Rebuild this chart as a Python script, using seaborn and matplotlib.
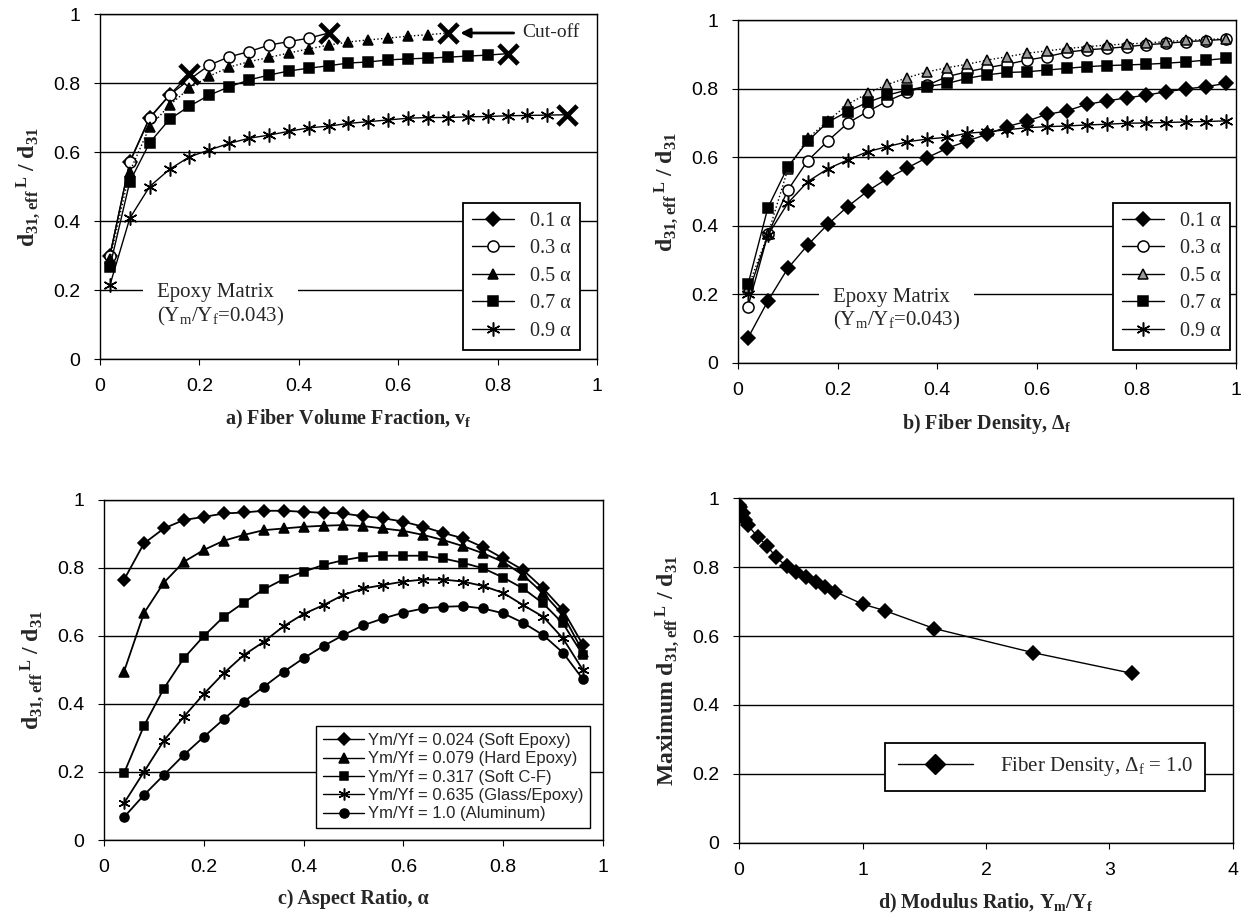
import seaborn as sns
import matplotlib.pyplot as plt
from matplotlib.lines import Line2D

# ---- data ----
# a) fiber volume fraction
vf = [0.02, 0.06, 0.10, 0.14, 0.18, 0.22, 0.26, 0.30, 0.34, 0.38, 0.42, 0.46,
      0.50, 0.54, 0.58, 0.62, 0.66, 0.70, 0.74, 0.78, 0.82, 0.86, 0.90, 0.94]
a_01 = [0.30, 0.57, 0.698, 0.765, 0.825]
a_03 = [0.30, 0.572, 0.70, 0.765, 0.81, 0.852, 0.876, 0.891, 0.91, 0.92, 0.93, 0.945]
a_05 = [0.29, 0.543, 0.673, 0.736, 0.785, 0.82, 0.846, 0.862, 0.874, 0.887, 0.899,
        0.91, 0.919, 0.925, 0.93, 0.936, 0.94, 0.945]
a_07 = [0.268, 0.514, 0.627, 0.695, 0.733, 0.765, 0.789, 0.809, 0.823, 0.835, 0.843,
        0.85, 0.858, 0.861, 0.867, 0.87, 0.872, 0.875, 0.878, 0.881, 0.885]
a_09 = [0.214, 0.408, 0.50, 0.55, 0.586, 0.606, 0.625, 0.64, 0.649, 0.66, 0.67, 0.675,
        0.683, 0.688, 0.693, 0.698, 0.70, 0.70, 0.702, 0.703, 0.705, 0.706, 0.707, 0.708]

# b) fiber density
df_x = [0.02, 0.06, 0.10, 0.14, 0.18, 0.22, 0.26, 0.30, 0.34, 0.38, 0.42, 0.46, 0.50,
        0.54, 0.58, 0.62, 0.66, 0.70, 0.74, 0.78, 0.82, 0.86, 0.90, 0.94, 0.98]
b_01 = [0.073, 0.181, 0.276, 0.344, 0.404, 0.456, 0.501, 0.538, 0.569, 0.599, 0.626, 0.647,
        0.667, 0.689, 0.705, 0.725, 0.735, 0.754, 0.764, 0.773, 0.781, 0.791, 0.799, 0.806, 0.815]
b_03 = [0.164, 0.375, 0.504, 0.59, 0.647, 0.699, 0.733, 0.764, 0.789, 0.81, 0.835, 0.849,
        0.861, 0.871, 0.883, 0.893, 0.906, 0.913, 0.917, 0.922, 0.928, 0.932, 0.937, 0.94, 0.944]
b_05 = [0.22, 0.375, 0.565, 0.655, 0.705, 0.754, 0.786, 0.812, 0.832, 0.849, 0.861, 0.871,
        0.883, 0.893, 0.903, 0.91, 0.917, 0.922, 0.927, 0.93, 0.933, 0.937, 0.941, 0.943, 0.946]
b_07 = [0.229, 0.453, 0.572, 0.647, 0.702, 0.733, 0.76, 0.781, 0.796, 0.806, 0.815, 0.83,
        0.84, 0.847, 0.849, 0.854, 0.859, 0.864, 0.867, 0.869, 0.871, 0.874, 0.878, 0.883, 0.888]
b_09 = [0.20, 0.373, 0.466, 0.529, 0.566, 0.592, 0.616, 0.631, 0.645, 0.653, 0.658, 0.67,
        0.674, 0.68, 0.686, 0.689, 0.691, 0.694, 0.696, 0.699, 0.70, 0.701, 0.703, 0.704, 0.706]

# c) aspect ratio
alpha = [0.04, 0.08, 0.12, 0.16, 0.20, 0.24, 0.28, 0.32, 0.36, 0.40, 0.44, 0.48,
         0.52, 0.56, 0.60, 0.64, 0.68, 0.72, 0.76, 0.80, 0.84, 0.88, 0.92, 0.96]
c_024 = [0.764, 0.871, 0.915, 0.94, 0.949, 0.959, 0.962, 0.967, 0.967, 0.964, 0.961, 0.959,
         0.951, 0.945, 0.935, 0.92, 0.902, 0.886, 0.86, 0.827, 0.793, 0.739, 0.675, 0.573]
c_079 = [0.494, 0.666, 0.756, 0.817, 0.852, 0.879, 0.896, 0.91, 0.915, 0.92, 0.923, 0.925,
         0.922, 0.915, 0.908, 0.896, 0.881, 0.863, 0.842, 0.817, 0.778, 0.725, 0.661, 0.553]
c_317 = [0.196, 0.335, 0.445, 0.534, 0.599, 0.656, 0.697, 0.736, 0.766, 0.788, 0.808, 0.822,
         0.832, 0.835, 0.835, 0.835, 0.827, 0.814, 0.798, 0.771, 0.739, 0.695, 0.636, 0.543]
c_635 = [0.108, 0.20, 0.292, 0.362, 0.429, 0.49, 0.543, 0.582, 0.628, 0.664, 0.69, 0.72,
         0.739, 0.749, 0.759, 0.765, 0.765, 0.759, 0.746, 0.726, 0.69, 0.656, 0.592, 0.499]
c_100 = [0.067, 0.132, 0.191, 0.25, 0.303, 0.355, 0.406, 0.45, 0.494, 0.534, 0.57, 0.602,
         0.631, 0.651, 0.668, 0.68, 0.685, 0.687, 0.68, 0.666, 0.638, 0.602, 0.55, 0.472]

# d) modulus ratio
ym_yf = [0.0, 0.01, 0.03, 0.045, 0.07, 0.15, 0.23, 0.30, 0.385, 0.46, 0.54, 0.62,
         0.70, 0.78, 1.0, 1.18, 1.58, 2.38, 3.18]
d_max = [0.98, 0.976, 0.956, 0.937, 0.922, 0.889, 0.861, 0.829, 0.803, 0.787, 0.771, 0.758,
         0.742, 0.729, 0.693, 0.674, 0.622, 0.552, 0.492]

ab_labels = ["0.1 α", "0.3 α", "0.5 α", "0.7 α", "0.9 α"]
c_labels = ["Ym/Yf = 0.024 (Soft Epoxy)", "Ym/Yf = 0.079 (Hard Epoxy)",
            "Ym/Yf = 0.317 (Soft C-F)", "Ym/Yf = 0.635 (Glass/Epoxy)",
            "Ym/Yf = 1.0 (Aluminum)"]

sns.set_style("white")
plt.rcParams['font.family'] = ['Liberation Serif', 'DejaVu Serif']
plt.rcParams['mathtext.fontset'] = 'custom'
plt.rcParams['mathtext.default'] = 'regular'

SANS = 'Liberation Sans'
YLAB = r"d$_{31,eff}$$^{\,L}$ / d$_{31}$"

# marker styles: (marker, face, size, linestyle)
ab_styles = [('D', 'black', 7, '-'), ('o', 'white', 8, '-'), ('^', 'black', 7.5, ':'),
             ('s', 'black', 7, '-'), ((6, 2, 0), 'black', 10, '-')]

fig = plt.figure(figsize=(12.59, 9.22), dpi=100)
ax_a = fig.add_axes([0.0794, 0.6106, 0.3948, 0.3742])
ax_b = fig.add_axes([0.5862, 0.6063, 0.3956, 0.3720])
ax_c = fig.add_axes([0.0826, 0.0889, 0.3963, 0.3693])
ax_d = fig.add_axes([0.5870, 0.0860, 0.3923, 0.3735])


def style_axes(ax, xmax, xticks, xlabels):
    ax.set_xlim(0, xmax)
    ax.set_ylim(0, 1)
    ax.set_yticks([0, 0.2, 0.4, 0.6, 0.8, 1.0])
    ax.set_yticklabels(["0", "0.2", "0.4", "0.6", "0.8", "1"])
    ax.set_xticks(xticks)
    ax.set_xticklabels(xlabels)
    ax.grid(axis='y', color='black', lw=1.0)
    ax.grid(axis='x', visible=False)
    ax.set_axisbelow(True)
    for s in ax.spines.values():
        s.set_color('black')
        s.set_linewidth(1.0)
    ax.tick_params(axis='both', direction='out', length=4, width=0.8, colors='black',
                   labelsize=14, pad=10, bottom=True, left=True)
    for t in ax.get_xticklabels() + ax.get_yticklabels():
        t.set_fontfamily(SANS)


def series(ax, x, y, st, cutoff=False, lw=1.0):
    mk, face, ms, ls = st
    n = len(y)
    sns.lineplot(x=x[:n], y=y, ax=ax, color='black', lw=lw, linestyle=ls, marker=mk,
                 ms=ms, mfc=face, mec='black', mew=1.1, sort=False, errorbar=None,
                 markevery=list(range(n - 1)) if cutoff else None)
    if cutoff:
        sns.scatterplot(x=[x[n - 1]], y=[y[-1]], ax=ax, marker='x', s=190,
                        color='black', linewidth=3.4, zorder=6)


def handles(styles, ms_scale=1.0):
    return [Line2D([], [], color='black', lw=1.0, linestyle='-', marker=m,
                   ms=s * ms_scale, mfc=f, mec='black', mew=1.1)
            for m, f, s, l in styles]


def finish_labels(ax, xlab, ylab):
    ax.set_xlabel(xlab, fontsize=14.5, fontweight='bold', labelpad=9)
    ax.set_ylabel(ylab, fontsize=17, fontweight='bold', labelpad=8)


# ---- a) ----
for y, st in zip([a_01, a_03, a_05, a_07, a_09], ab_styles):
    series(ax_a, vf, y, st, cutoff=True)
style_axes(ax_a, 1, [0, 0.2, 0.4, 0.6, 0.8, 1.0], ["0", "0.2", "0.4", "0.6", "0.8", "1"])
ax_a.legend(handles(ab_styles), ab_labels, loc='lower right', bbox_to_anchor=(0.966, 0.026),
            fontsize=14.5, frameon=True, fancybox=False, edgecolor='black', framealpha=1,
            handlelength=2.1, labelspacing=0.42, borderpad=0.45, handletextpad=0.8,
            borderaxespad=0).get_frame().set_linewidth(1.3)
ax_a.annotate("Cut-off", xy=(0.725, 0.945), xytext=(0.85, 0.945), fontsize=14,
              va='center', ha='left',
              arrowprops=dict(arrowstyle='-|>', color='black', lw=2, shrinkA=4, shrinkB=0,
                              mutation_scale=14))
ax_a.text(0.115, 0.155, "Epoxy Matrix\n(Y$_m$/Y$_f$=0.043)", fontsize=15, ha='left',
          va='center', linespacing=1.15,
          bbox=dict(facecolor='white', edgecolor='none', pad=10))
finish_labels(ax_a, "a) Fiber Volume Fraction, v$_f$", YLAB)

# ---- b) ----
b_styles = list(ab_styles)
b_styles[2] = ('^', '#9a9a9a', 7.5, ':')
for y, st in zip([b_01, b_03, b_05, b_07, b_09], b_styles):
    series(ax_b, df_x, y, st)
style_axes(ax_b, 1, [0, 0.2, 0.4, 0.6, 0.8, 1.0], ["0", "0.2", "0.4", "0.6", "0.8", "1"])
ax_b.legend(handles(b_styles), ab_labels, loc='lower right', bbox_to_anchor=(0.988, 0.038),
            fontsize=14.5, frameon=True, fancybox=False, edgecolor='black', framealpha=1,
            handlelength=2.1, labelspacing=0.42, borderpad=0.45, handletextpad=0.8,
            borderaxespad=0).get_frame().set_linewidth(1.3)
ax_b.text(0.19, 0.155, "Epoxy Matrix\n(Y$_m$/Y$_f$=0.043)", fontsize=15, ha='left',
          va='center', linespacing=1.15,
          bbox=dict(facecolor='white', edgecolor='none', pad=10))
finish_labels(ax_b, "b) Fiber Density, Δ$_f$", YLAB)

# ---- c) ----
c_styles = [('D', 'black', 6, '-'), ('^', 'black', 6.5, '-'), ('s', 'black', 6, '-'),
            ((6, 2, 0), 'black', 8.5, '-'), ('o', 'black', 6.5, '-')]
for y, st in zip([c_024, c_079, c_317, c_635, c_100], c_styles):
    series(ax_c, alpha, y, st, lw=1.3)
style_axes(ax_c, 1, [0, 0.2, 0.4, 0.6, 0.8, 1.0], ["0", "0.2", "0.4", "0.6", "0.8", "1"])
leg_c = ax_c.legend(handles(c_styles), c_labels, loc='lower right',
                    bbox_to_anchor=(0.974, 0.035), prop={'family': SANS, 'size': 12},
                    frameon=True, fancybox=False, edgecolor='black', framealpha=1,
                    handlelength=2.5, labelspacing=0.2, borderpad=0.4, handletextpad=0.2,
                    borderaxespad=0)
leg_c.get_frame().set_linewidth(1.0)
finish_labels(ax_c, "c) Aspect Ratio, α", YLAB)

# ---- d) ----
series(ax_d, ym_yf, d_max, ('D', 'black', 7, '-'))
style_axes(ax_d, 4, [0, 1, 2, 3, 4], ["0", "1", "2", "3", "4"])
leg_d = ax_d.legend([Line2D([], [], color='black', lw=1.0, marker='D', ms=10, mfc='black',
                            mec='black')],
                    ["Fiber Density, Δ$_f$ = 1.0"], loc='center', bbox_to_anchor=(0.62, 0.22),
                    fontsize=15, frameon=True, fancybox=False, edgecolor='black',
                    framealpha=1, handlelength=3.6, borderpad=0.6, handletextpad=1.3)
leg_d.get_frame().set_linewidth(1.3)
finish_labels(ax_d, "d) Modulus Ratio, Y$_m$/Y$_f$", "Maximum " + YLAB)

fig.savefig("out.png", dpi=100, facecolor='white')
